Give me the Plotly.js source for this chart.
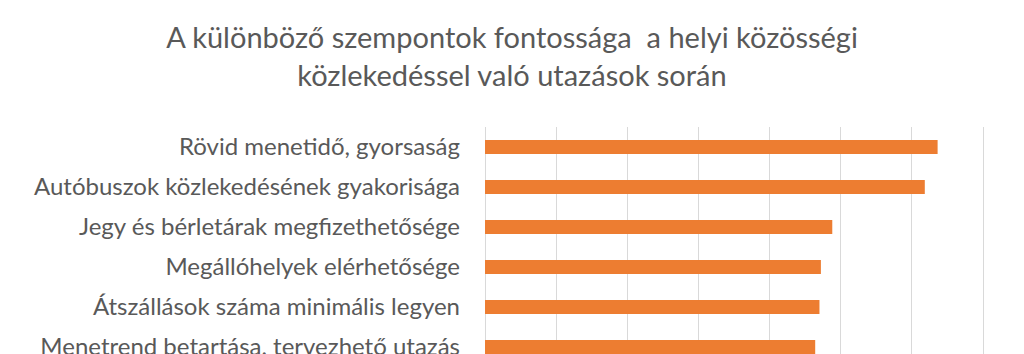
<!DOCTYPE html>
<html>
<head>
<meta charset="utf-8">
<script src="https://cdn.plot.ly/plotly-3.0.1.min.js"></script>
<style>html,body{margin:0;padding:0;background:#fff;overflow:hidden;}</style>
</head>
<body>
<div id="chart" style="width:1024px;height:354px;"></div>
<script>
const categories = [
  "Rövid menetidő, gyorsaság",
  "Autóbuszok közlekedésének gyakorisága",
  "Jegy és bérletárak megfizethetősége",
  "Megállóhelyek elérhetősége",
  "Átszállások száma minimális legyen",
  "Menetrend betartása, tervezhető utazás"
];
const values = [3.18, 3.09, 2.44, 2.36, 2.35, 2.32];
const titleText = "A különböző szempontok fontossága  a helyi közösségi<br>közlekedéssel való utazások során";

const trace = {
  type: "bar",
  orientation: "h",
  x: values,
  y: categories,
  marker: {color: "#ED7D31"},
  hoverinfo: "x+y"
};

const layout = {
  width: 1024,
  height: 354,
  margin: {l: 485, r: 38, t: 127, b: 0, pad: 0},
  paper_bgcolor: "#ffffff",
  plot_bgcolor: "#ffffff",
  bargap: 0.65,
  showlegend: false,
  title: {
    text: titleText,
    font: {family: "Lato, 'Open Sans', sans-serif", size: 29, color: "#595959"},
    x: 0.5, xanchor: "center",
    y: 0.864, yanchor: "middle", yref: "container"
  },
  xaxis: {
    range: [0, 3.52],
    dtick: 0.5,
    tick0: 0,
    showgrid: true,
    gridcolor: "#d9d9d9",
    gridwidth: 1,
    zeroline: true,
    zerolinecolor: "#d9d9d9",
    zerolinewidth: 1,
    showticklabels: false,
    showline: false,
    fixedrange: true
  },
  yaxis: {
    type: "category",
    categoryorder: "array",
    categoryarray: categories,
    range: [5.175, -0.5],
    autorange: false,
    showgrid: false,
    zeroline: false,
    showline: false,
    ticks: "",
    ticklabelstandoff: 24,
    tickfont: {family: "Lato, 'Open Sans', sans-serif", size: 24, color: "#595959"},
    fixedrange: true
  }
};

Plotly.newPlot("chart", [trace], layout, {displayModeBar: false, staticPlot: true});
</script>
</body>
</html>
